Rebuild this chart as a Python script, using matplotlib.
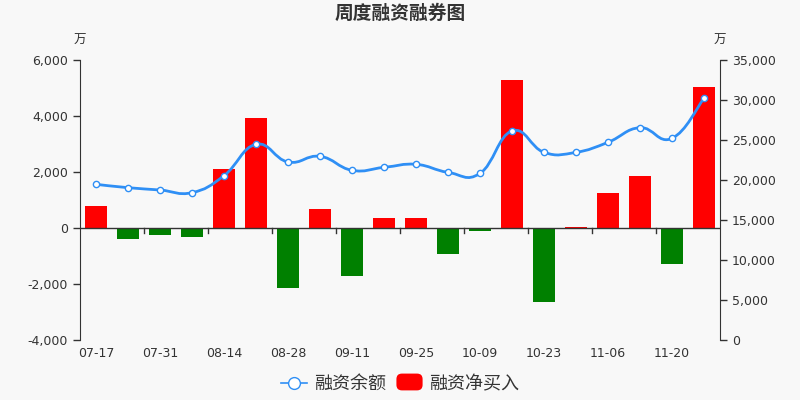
import numpy as np
import matplotlib
matplotlib.use('Agg')
import matplotlib.pyplot as plt
from matplotlib.path import Path
from matplotlib.patches import PathPatch, FancyBboxPatch, Patch
from matplotlib.lines import Line2D
from matplotlib.legend_handler import HandlerPatch
from matplotlib.ticker import FuncFormatter

plt.rcParams['font.family'] = ['DejaVu Sans', 'Noto Sans CJK SC']

# weekly data
dates = ['07-17', '07-24', '07-31', '08-07', '08-14', '08-21', '08-28', '09-04',
         '09-11', '09-18', '09-25', '10-02', '10-09', '10-16', '10-23', '10-30',
         '11-06', '11-13', '11-20', '11-27']
net_buy = [800, -393, -250, -321, 2119, 3940, -2155, 667, -1714, 357,
           369, -940, -107, 5286, -2631, 36, 1238, 1869, -1286, 5024]
balance = [19460, 19040, 18750, 18420, 20540, 24460, 22250, 22960, 21210, 21580,
           21960, 20960, 20830, 26130, 23460, 23460, 24710, 26540, 25210, 30210]

bg = '#f8f8f8'
axc = '#333333'
blue = '#2f8ff5'

fig = plt.figure(figsize=(8, 4), dpi=100, facecolor=bg)
ax = fig.add_axes([0.1, 0.15, 0.8, 0.7], facecolor=bg)
ax2 = ax.twinx()

x = np.arange(len(dates))
colors = ['#ff0000' if v >= 0 else '#008000' for v in net_buy]
ax.bar(x, net_buy, width=0.69, color=colors, zorder=2)

ax.set_xlim(-0.5, len(dates) - 0.5)
ax.set_ylim(-4000, 6000)
ax.set_yticks(range(-4000, 6001, 2000))
ax.yaxis.set_major_formatter(FuncFormatter(lambda v, p: '{:,}'.format(int(v))))

ax2.set_ylim(0, 35000)
ax2.set_yticks(range(0, 35001, 5000))
ax2.yaxis.set_major_formatter(FuncFormatter(lambda v, p: '{:,}'.format(int(v))))

# smooth line through the balance points (bezier)
pts = np.column_stack([x, balance]).astype(float)
k = 0.22
verts = [pts[0]]
codes = [Path.MOVETO]
n = len(pts)
for i in range(n - 1):
    p0 = pts[max(i - 1, 0)]
    p1 = pts[i]
    p2 = pts[i + 1]
    p3 = pts[min(i + 2, n - 1)]
    c1 = p1 + (p2 - p0) * k
    c2 = p2 - (p3 - p1) * k
    verts += [c1, c2, p2]
    codes += [Path.CURVE4] * 3
ax2.add_patch(PathPatch(Path(verts, codes), fill=False, edgecolor=blue, lw=2, zorder=3))
ax2.plot(x, balance, ls='none', marker='o', ms=4.5, mfc='white', mec=blue, mew=1, zorder=4)

for a in (ax, ax2):
    a.spines['top'].set_visible(False)
    a.spines['bottom'].set_visible(False)
ax.spines['right'].set_visible(False)
ax.spines['left'].set_color(axc)
ax2.spines['right'].set_color(axc)
ax2.spines['left'].set_visible(False)

ax.tick_params(axis='y', colors=axc, labelsize=9, length=5, width=1)
ax2.tick_params(axis='y', colors=axc, labelsize=9, length=5, width=1)

# zero axis line with boundary ticks
ax.axhline(0, color=axc, lw=1, zorder=3)
ax.set_xticks(np.arange(1.5, len(dates) - 1, 2))
ax.tick_params(axis='x', labelbottom=False, length=0)
for t in np.arange(1.5, len(dates) - 1, 2):
    ax.plot([t, t], [0, -180], color=axc, lw=1, zorder=3, clip_on=False)

sec = ax.secondary_xaxis('bottom')
sec.set_xticks(x[::2])
sec.set_xticklabels(dates[::2])
sec.tick_params(length=0, labelsize=9, colors=axc, pad=5)
sec.spines['bottom'].set_visible(False)

fig.text(0.1, 0.9, '万', ha='center', va='center', fontsize=9, color=axc)
fig.text(0.9, 0.9, '万', ha='center', va='center', fontsize=9, color=axc)
fig.text(0.5, 0.967, '周度融资融券图', ha='center', va='center', fontsize=13.5,
         fontweight='bold', color=axc)


def round_box(legend, orig_handle, xdescent, ydescent, width, height, fontsize):
    return FancyBboxPatch((-xdescent, -ydescent - 1), width, height + 3,
                          boxstyle='round,pad=0,rounding_size=4')


handles = [Line2D([], [], color=blue, lw=1.2, marker='o', ms=8.5, mfc='white', mec=blue),
           Patch(fc='#ff0000', ec='none')]
fig.legend(handles, ['融资余额', '融资净买入'], loc='center', bbox_to_anchor=(0.5, 0.04),
           ncol=2, frameon=False, fontsize=13, labelcolor=axc, handlelength=1.45,
           handletextpad=0.35, columnspacing=0.6,
           handler_map={Patch: HandlerPatch(patch_func=round_box)})

fig.savefig('out.png', dpi=100, facecolor=bg)
